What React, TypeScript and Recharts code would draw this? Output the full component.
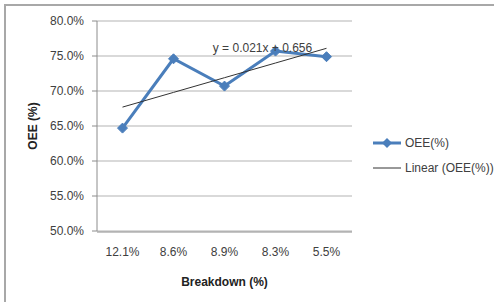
import {
  LineChart,
  Line,
  XAxis,
  YAxis,
  CartesianGrid,
  Legend,
  LabelList,
  Label,
} from 'recharts';

const breakdown = ['12.1%', '8.6%', '8.9%', '8.3%', '5.5%'];
const oee = [0.647, 0.746, 0.707, 0.757, 0.749];
const oeeTrend = [0.677, 0.698, 0.719, 0.74, 0.761];
const yTicks = [0.5, 0.55, 0.6, 0.65, 0.7, 0.75, 0.8];
const edgeTicks = [0, 1, 2, 3, 4, 5];
const trendEquation = 'y = 0.021x + 0.656';

const data = breakdown.map((b, i) => ({ name: b, oee: oee[i], trend: oeeTrend[i] }));

const FONT = '"Liberation Sans", Arial, sans-serif';
const BLUE = '#4a7ebb';
const TEXT = '#404040';
const GRID = '#b3b3b3';

const Diamond = (props: any) => {
  const { cx, cy } = props;
  if (cx == null || cy == null) return null;
  const r = 5;
  return (
    <path
      d={`M${cx},${cy - r}L${cx + r},${cy}L${cx},${cy + r}L${cx - r},${cy}Z`}
      fill={BLUE}
      stroke={BLUE}
    />
  );
};

const LegendContent = () => (
  <div style={{ fontFamily: FONT, fontSize: 12, color: TEXT }}>
    <div style={{ display: 'flex', alignItems: 'center', height: 16 }}>
      <svg width={30} height={12}>
        <line x1={0} y1={6} x2={28} y2={6} stroke={BLUE} strokeWidth={3} />
        <path d="M14,1L19,6L14,11L9,6Z" fill={BLUE} />
      </svg>
      <span style={{ marginLeft: 2 }}>OEE(%)</span>
    </div>
    <div style={{ display: 'flex', alignItems: 'center', height: 16, marginTop: 9 }}>
      <svg width={30} height={12}>
        <line x1={0} y1={6} x2={28} y2={6} stroke="#333" strokeWidth={1} />
      </svg>
      <span style={{ marginLeft: 2 }}>Linear (OEE(%))</span>
    </div>
  </div>
);

export default function App() {
  return (
    <div style={{ position: 'absolute', left: 0, top: 0, width: 501, height: 302, background: '#fff' }}>
      <div
        style={{
          position: 'absolute',
          left: 4,
          top: 4,
          width: 488,
          height: 298,
          borderTop: '2px solid #a8a8a8',
          borderLeft: '2px solid #a8a8a8',
        }}
      />
      <LineChart
        width={501}
        height={302}
        data={data}
        margin={{ top: 21, right: 149, left: 0, bottom: 69 }}
        style={{ fontFamily: FONT }}
      >
        <CartesianGrid vertical={false} stroke={GRID} />
        <XAxis
          xAxisId="edge"
          type="number"
          domain={[0, 5]}
          ticks={edgeTicks}
          height={1}
          tick={false}
          tickSize={5}
          stroke="#8c8c8c"
        />
        <XAxis
          xAxisId="cat"
          dataKey="name"
          scale="band"
          height={1}
          tickLine={false}
          axisLine={false}
          tickSize={0}
          tickMargin={16}
          tick={{ fill: TEXT, fontSize: 12 }}
          interval={0}
        >
          <Label
            value="Breakdown (%)"
            position="bottom"
            offset={45}
            style={{ fill: '#222', fontSize: 12, fontWeight: 'bold' }}
          />
        </XAxis>
        <YAxis
          width={97}
          domain={[0.5, 0.8]}
          ticks={yTicks}
          tickFormatter={(v: number) => `${(v * 100).toFixed(1)}%`}
          tick={{ fill: TEXT, fontSize: 12 }}
          tickSize={5}
          tickMargin={8}
          stroke="#8c8c8c"
        >
          <Label
            content={(props: any) => {
              const vb = props.viewBox;
              const x = vb.x + 37;
              const y = vb.y + vb.height / 2;
              return (
                <text
                  x={x}
                  y={y}
                  transform={`rotate(-90, ${x}, ${y})`}
                  textAnchor="middle"
                  fill="#222"
                  fontSize={12}
                  fontWeight="bold"
                  fontFamily={FONT}
                >
                  OEE (%)
                </text>
              );
            }}
          />
        </YAxis>
        <Legend
          layout="vertical"
          align="center"
          verticalAlign="middle"
          content={<LegendContent />}
          wrapperStyle={{ left: 373, top: 135, width: 128 }}
        />
        <Line
          xAxisId="cat"
          dataKey="oee"
          name="OEE(%)"
          stroke={BLUE}
          strokeWidth={3}
          dot={<Diamond />}
          activeDot={false}
          isAnimationActive={false}
        />
        <Line
          xAxisId="cat"
          dataKey="trend"
          name="Linear (OEE(%))"
          stroke="#333"
          strokeWidth={1}
          dot={false}
          activeDot={false}
          isAnimationActive={false}
        >
          <LabelList
            dataKey="trend"
            content={(props: any) =>
              props.index === 3 ? (
                <text
                  x={props.x - 13}
                  y={props.y - 11}
                  textAnchor="middle"
                  fill={TEXT}
                  fontSize={12}
                  fontFamily={FONT}
                >
                  {trendEquation}
                </text>
              ) : null
            }
          />
        </Line>
      </LineChart>
    </div>
  );
}
